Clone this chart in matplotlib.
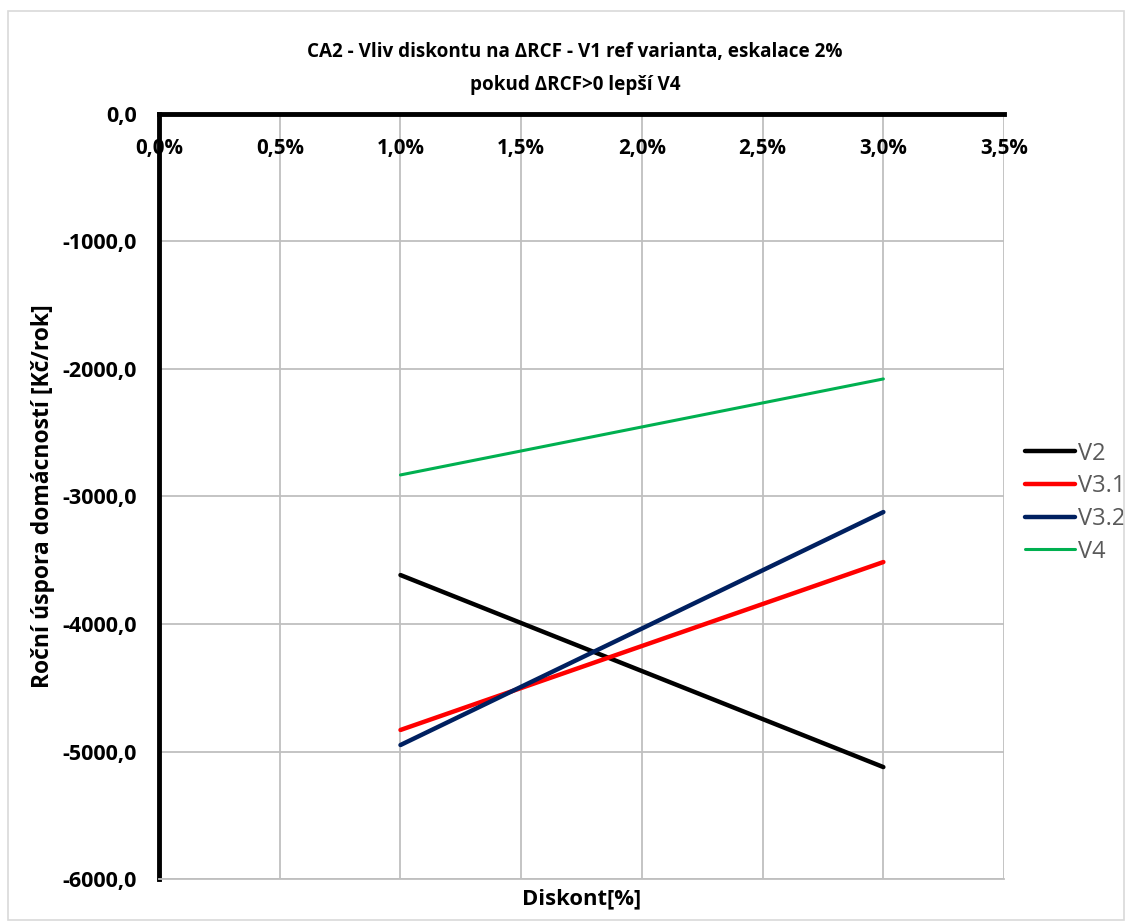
import numpy as np
import matplotlib
matplotlib.use("Agg")
import matplotlib.pyplot as plt
from matplotlib.ticker import FuncFormatter, MultipleLocator

diskont = [1.0, 3.0]
v2 = [-3616, -5122]
v31 = [-4831, -3514]
v32 = [-4949, -3122]
v4 = [-2831, -2078]

series = [
    ('V2', v2, '#000000', 3.2),
    ('V3.1', v31, '#ff0000', 3.2),
    ('V3.2', v32, '#002060', 3.2),
    ('V4', v4, '#00b050', 2.2),
]

plt.rcParams['font.family'] = ['Open Sans', 'DejaVu Sans']

fig = plt.figure(figsize=(11.32, 9.22), dpi=100)
ax = fig.add_axes([0.1405, 0.0466, 0.887 - 0.1405, 0.8298])

fig.patches.append(plt.Rectangle((0.007, 0.002), 0.986, 0.986, transform=fig.transFigure,
                                 fill=False, edgecolor='#d9d9d9', linewidth=1.2))

for name, vals, color, lw in series:
    ax.plot(diskont, vals, color=color, linewidth=lw, label=name, solid_capstyle='round')

ax.set_xlim(0, 3.5)
ax.set_ylim(-6000, 0)
ax.xaxis.set_major_locator(MultipleLocator(0.5))
ax.yaxis.set_major_locator(MultipleLocator(1000))
ax.xaxis.set_major_formatter(FuncFormatter(lambda v, p: f'{v:.1f}%'.replace('.', ',')))
ax.yaxis.set_major_formatter(FuncFormatter(lambda v, p: f'{v:.1f}'.replace('.', ',')))
ax.grid(True, color='#bfbfbf', linewidth=1.3)
ax.set_axisbelow(True)

ax.tick_params(axis='x', top=True, labeltop=True, bottom=False, labelbottom=False,
               length=0, pad=-32.5, labelsize=14.8)
ax.tick_params(axis='y', length=0, pad=16, labelsize=15.5)
for lab in ax.get_xticklabels() + ax.get_yticklabels():
    lab.set_fontweight('bold')

ax.spines['left'].set_linewidth(3.5)
ax.spines['top'].set_linewidth(3.5)
ax.spines['left'].set_color('black')
ax.spines['top'].set_color('black')
ax.spines['bottom'].set_color('#bfbfbf')
ax.spines['bottom'].set_linewidth(1.3)
ax.spines['right'].set_visible(False)

ax.set_xlabel('Diskont[%]', fontsize=15.8, fontweight='bold', labelpad=7)
ax.set_ylabel('Roční úspora domácností [Kč/rok]', fontsize=16.5, fontweight='bold', labelpad=5)

fig.text(0.508, 1 - 57 / 922, 'CA2 - Vliv diskontu na ΔRCF - V1 ref varianta, eskalace 2%',
         ha='center', va='baseline', fontsize=13.6, fontweight='bold')
fig.text(0.508, 1 - 90 / 922, 'pokud ΔRCF>0 lepší V4',
         ha='center', va='baseline', fontsize=13.6, fontweight='bold')

leg = ax.legend(loc='center left', bbox_to_anchor=(1.0, 0.492), frameon=False,
                fontsize=17, handlelength=2.1, handletextpad=0.15, labelspacing=0.37)
for t in leg.get_texts():
    t.set_color('#595959')

fig.savefig('out.png', dpi=100)
